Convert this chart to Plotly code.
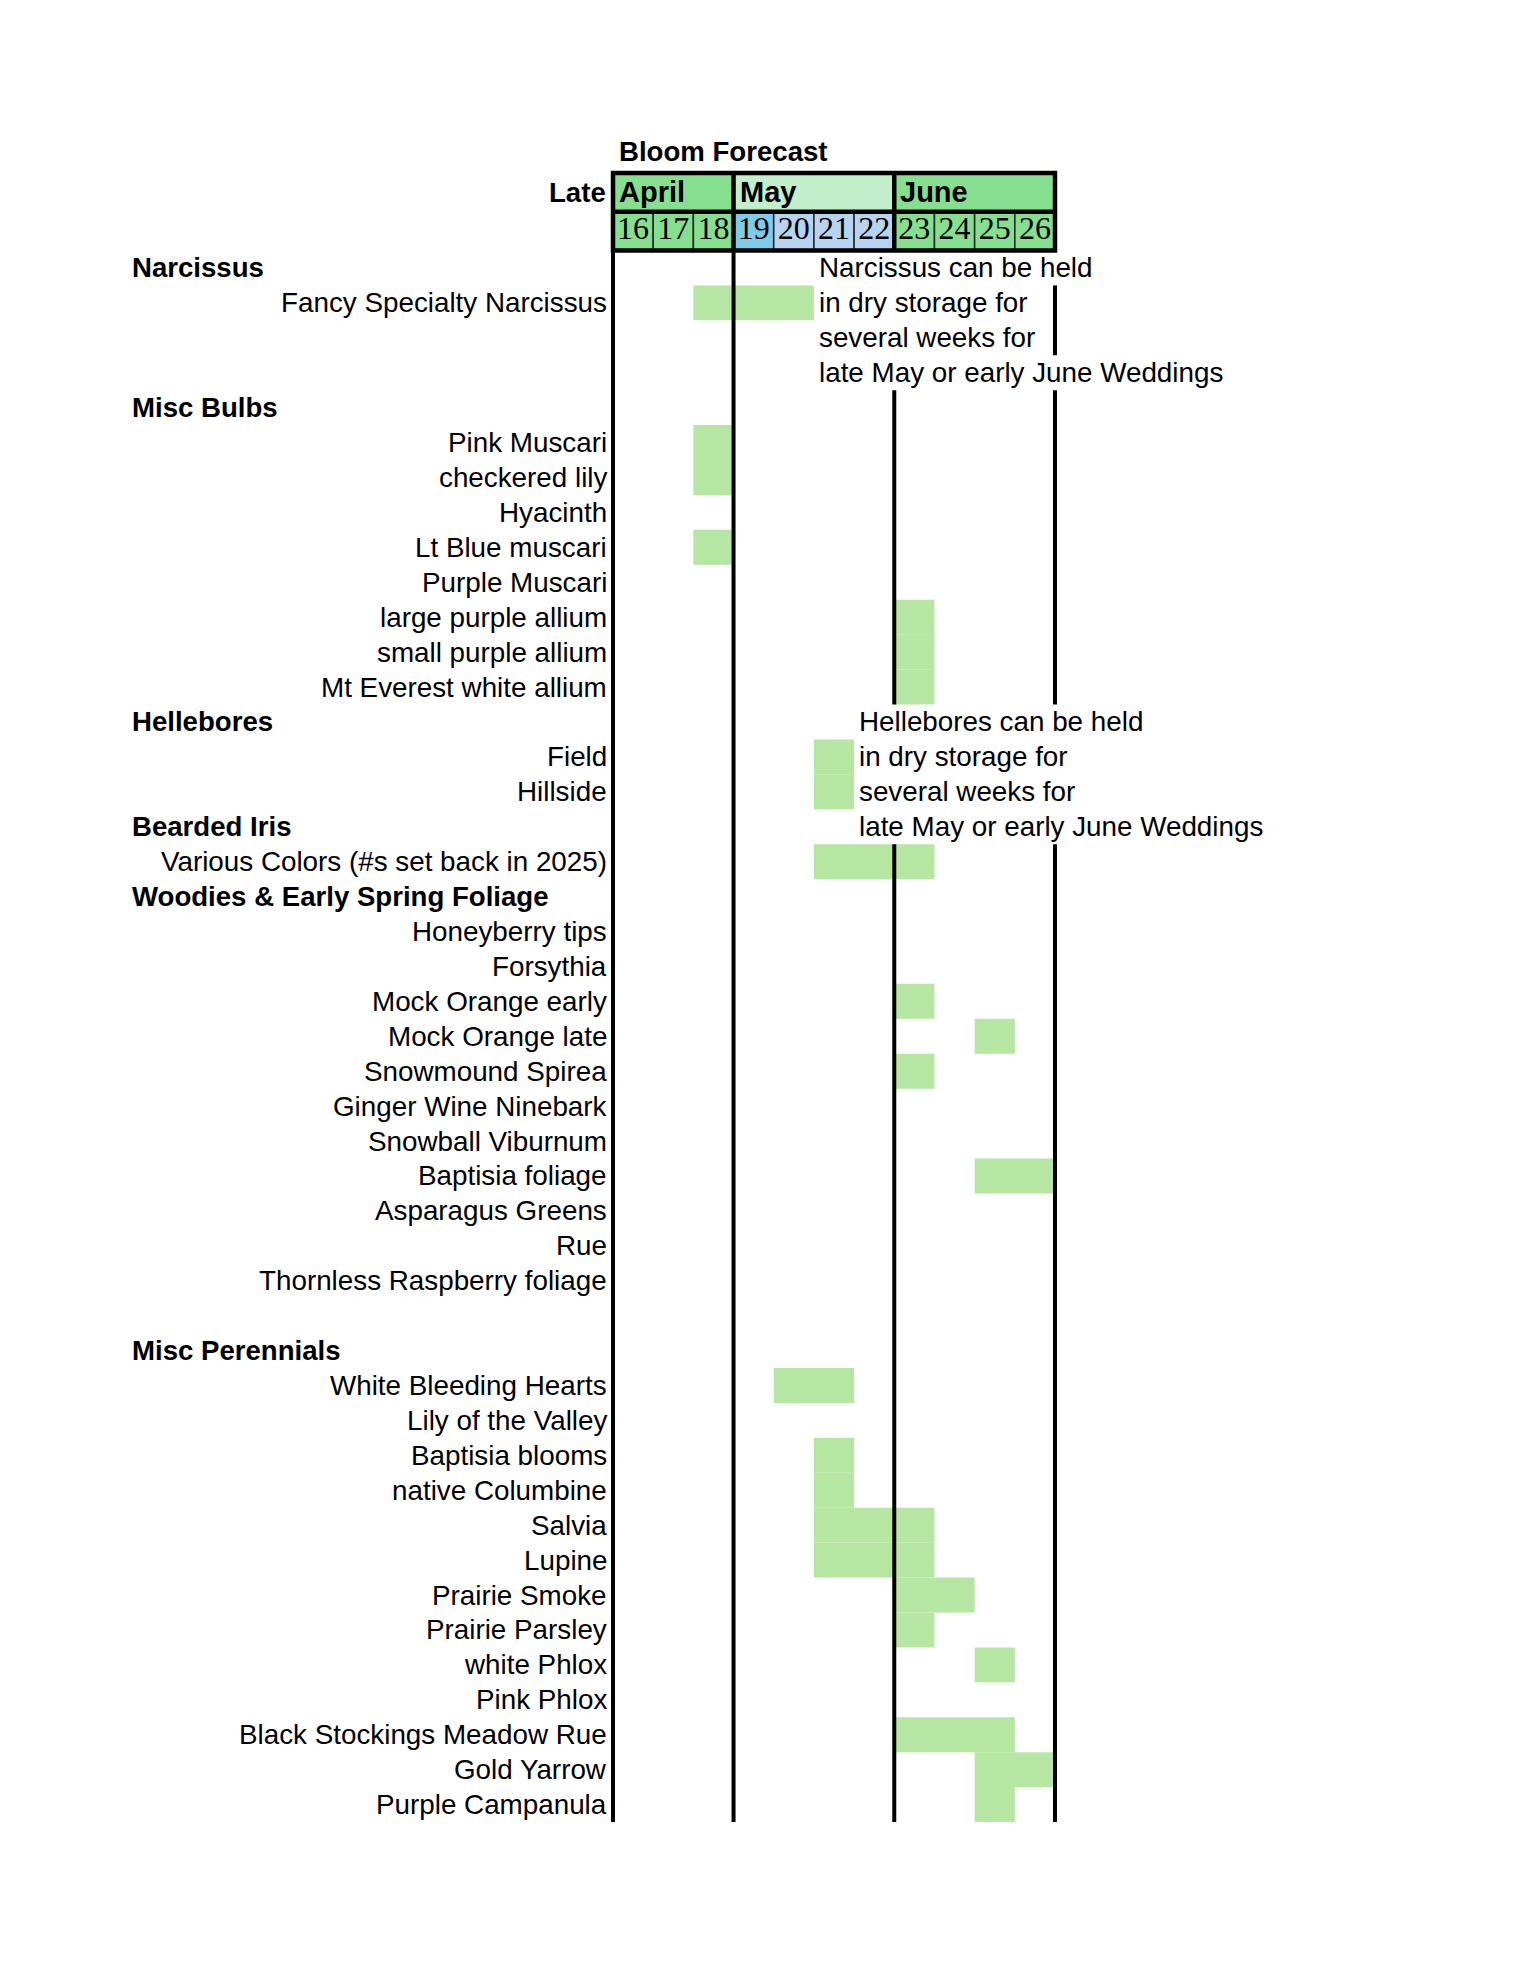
import plotly.graph_objects as go

# ---------------- data ----------------
days = [16, 17, 18, 19, 20, 21, 22, 23, 24, 25, 26]
day_labels = [str(d) for d in days]
day_colors = ["#86df8e", "#86df8e", "#86df8e", "#7fcbea", "#b8d3ef", "#b8d3ef",
              "#b8d3ef", "#86df8e", "#86df8e", "#86df8e", "#86df8e"]

months = ["April", "May", "June"]
month_first_day = [16, 19, 23]
month_last_day = [18, 22, 26]
month_colors = ["#86df8e", "#c2efca", "#86df8e"]

row_labels = [
    "Narcissus", "Fancy Specialty Narcissus", "", "",
    "Misc Bulbs", "Pink Muscari", "checkered lily", "Hyacinth", "Lt Blue muscari",
    "Purple Muscari", "large purple allium", "small purple allium", "Mt Everest white allium",
    "Hellebores", "Field", "Hillside",
    "Bearded Iris", "Various Colors (#s set back in 2025)",
    "Woodies & Early Spring Foliage", "Honeyberry tips", "Forsythia", "Mock Orange early",
    "Mock Orange late", "Snowmound Spirea", "Ginger Wine Ninebark", "Snowball Viburnum",
    "Baptisia foliage", "Asparagus Greens", "Rue", "Thornless Raspberry foliage", "",
    "Misc Perennials", "White Bleeding Hearts", "Lily of the Valley", "Baptisia blooms",
    "native Columbine", "Salvia", "Lupine", "Prairie Smoke", "Prairie Parsley",
    "white Phlox", "Pink Phlox", "Black Stockings Meadow Rue", "Gold Yarrow",
    "Purple Campanula",
]
category_labels = ["Narcissus", "Misc Bulbs", "Hellebores", "Bearded Iris",
                   "Woodies & Early Spring Foliage", "Misc Perennials"]

bloom_items = [
    "Fancy Specialty Narcissus", "Pink Muscari", "checkered lily", "Lt Blue muscari",
    "large purple allium", "small purple allium", "Mt Everest white allium",
    "Field", "Hillside", "Various Colors (#s set back in 2025)",
    "Mock Orange early", "Mock Orange late", "Snowmound Spirea", "Baptisia foliage",
    "White Bleeding Hearts", "Baptisia blooms", "native Columbine", "Salvia", "Lupine",
    "Prairie Smoke", "Prairie Parsley", "white Phlox", "Black Stockings Meadow Rue",
    "Gold Yarrow", "Purple Campanula",
]
bloom_first = [18, 18, 18, 18, 23, 23, 23, 21, 21, 21, 23, 25, 23, 25,
               20, 21, 21, 21, 21, 23, 23, 25, 23, 25, 25]
bloom_last = [20, 18, 18, 18, 23, 23, 23, 21, 21, 23, 23, 25, 23, 26,
              21, 21, 21, 23, 23, 24, 23, 25, 25, 26, 25]

note_anchor_rows = ["Narcissus", "Hellebores"]
note_start_day = [21, 22]
note_lines = [
    ["Narcissus can be held", "in dry storage for", "several weeks for",
     "late May or early June Weddings"],
    ["Hellebores can be held", "in dry storage for", "several weeks for",
     "late May or early June Weddings"],
]
# rows where the note text covers the June / end-of-chart divider
june_divider_hidden_rows = [0, 1, 2, 3, 13, 14, 15, 16]
end_divider_hidden_rows = [0, 3, 13, 14, 15, 16]

title_text = "Bloom Forecast"
period_text = "Late"

# ---------------- style / layout ----------------
W, H = 1530, 1980
BAR = "#b6e7a2"
FONT = "Liberation Sans, Arial, sans-serif"
FS = 27.8
FS_B = 27.6
grid_left, grid_right = 613, 1055
head_top, rows_top, rows_bottom = 172.5, 250, 1822
pad = 5

n_rows = len(row_labels)
ml = grid_left - pad
mr = W - (grid_right + pad)
mt = head_top - pad
mb = H - rows_bottom
plot_w = W - ml - mr
plot_h = H - mt - mb
cw = (grid_right - grid_left) / len(days)
x_lo = days[0] - 0.5 - pad / cw
x_hi = days[-1] + 0.5 + pad / cw
head_row_h = (rows_top - head_top) / 2
d_data_top = (rows_bottom - rows_top) / plot_h
d_head_bot = (rows_bottom - rows_top - pad) / plot_h
y2_lo = -0.5 - pad / head_row_h
y2_hi = 1.5 + pad / head_row_h

fig = go.Figure()

# header cells
fig.add_trace(go.Bar(
    orientation="h", y=[1] * len(months),
    x=[l - f + 1 for f, l in zip(month_first_day, month_last_day)],
    base=[f - 0.5 for f in month_first_day], width=1,
    marker=dict(color=month_colors, line=dict(width=0)),
    xaxis="x2", yaxis="y2", hoverinfo="skip"))
fig.add_trace(go.Bar(
    orientation="h", y=[0] * len(days), x=[1] * len(days),
    base=[d - 0.5 for d in days], width=1,
    marker=dict(color=day_colors, line=dict(color="#2b2b2b", width=1.6)),
    xaxis="x2", yaxis="y2", hoverinfo="skip"))

# header thick borders
x0, x1 = days[0] - 0.5, days[-1] + 0.5
hx = [x0, x1, x1, x0, x0, x1, None, x0, x1]
hy = [1.5, 1.5, -0.5, -0.5, 1.5, 1.5, None, 0.5, 0.5]
for f in month_first_day[1:]:
    hx += [None, f - 0.5, f - 0.5]
    hy += [None, -0.5, 1.5]
fig.add_trace(go.Scatter(x=hx, y=hy, mode="lines",
                         line=dict(color="black", width=4.5),
                         xaxis="x2", yaxis="y2", hoverinfo="skip"))

fig.add_trace(go.Scatter(
    x=days, y=[0] * len(days), text=day_labels, mode="text",
    textfont=dict(family="Liberation Serif, Times New Roman, serif", size=32, color="black"),
    xaxis="x2", yaxis="y2", hoverinfo="skip"))

# bloom bars
fig.add_trace(go.Bar(
    orientation="h", y=[row_labels.index(it) for it in bloom_items],
    x=[l - f + 1 for f, l in zip(bloom_first, bloom_last)],
    base=[f - 0.5 for f in bloom_first], width=1,
    marker=dict(color=BAR, line=dict(width=0)),
    xaxis="x", yaxis="y", hoverinfo="skip"))

# vertical dividers in the body
dividers = [month_first_day[0] - 0.5] + [f - 0.5 for f in month_first_day[1:]] + [month_last_day[-1] + 0.5]
hidden = {dividers[2]: set(june_divider_hidden_rows), dividers[3]: set(end_divider_hidden_rows)}
vx, vy = [], []
for dv in dividers:
    hid = hidden.get(dv, set())
    r = 0
    while r < n_rows:
        if r in hid:
            r += 1
            continue
        s = r
        while r < n_rows and r not in hid:
            r += 1
        vx += [dv, dv, None]
        vy += [s - 0.5, r - 0.5, None]
fig.add_trace(go.Scatter(x=vx, y=vy, mode="lines", line=dict(color="black", width=4),
                         xaxis="x", yaxis="y", hoverinfo="skip"))

ann = []
# title & Late
ann.append(dict(text=f"<b>{title_text}</b>", xref="paper", yref="paper",
                x=(617 - ml) / plot_w, y=(rows_bottom - 151) / plot_h,
                xanchor="left", yanchor="middle", showarrow=False,
                font=dict(family=FONT, size=FS_B, color="black")))
ann.append(dict(text=f"<b>{period_text}</b>", xref="x", yref="y2", x=x0, y=1,
                xanchor="right", yanchor="middle", xshift=-5, showarrow=False,
                font=dict(family=FONT, size=FS_B, color="black")))
for m, f in zip(months, month_first_day):
    ann.append(dict(text=f"<b>{m}</b>", xref="x", yref="y2", x=f - 0.5, y=1,
                    xanchor="left", yanchor="middle", xshift=4, showarrow=False,
                    font=dict(family=FONT, size=29, color="black")))
# row labels
for i, lab in enumerate(row_labels):
    if not lab:
        continue
    if lab in category_labels:
        ann.append(dict(text=f"<b>{lab}</b>", xref="paper", yref="y", x=(130 - ml) / plot_w, y=i,
                        xanchor="left", yanchor="middle", showarrow=False,
                        font=dict(family=FONT, size=FS_B, color="black")))
    else:
        ann.append(dict(text=lab, xref="x", yref="y", x=x0, y=i,
                        xanchor="right", yanchor="middle", xshift=-4, showarrow=False,
                        font=dict(family=FONT, size=FS, color="black")))
# notes
for anchor, sd, lines in zip(note_anchor_rows, note_start_day, note_lines):
    r0 = row_labels.index(anchor)
    for k, t in enumerate(lines):
        ann.append(dict(text=t, xref="x", yref="y", x=sd - 0.5, y=r0 + k,
                        xanchor="left", yanchor="middle", xshift=3, showarrow=False,
                        font=dict(family=FONT, size=FS, color="black")))

ax = dict(visible=False, showgrid=False, zeroline=False, fixedrange=True)
fig.update_layout(
    width=W, height=H, margin=dict(l=ml, r=mr, t=mt, b=mb, pad=0, autoexpand=False),
    paper_bgcolor="white", plot_bgcolor="rgba(0,0,0,0)",
    barmode="overlay", showlegend=False,
    xaxis=dict(ax, domain=[0, 1], range=[x_lo, x_hi], anchor="y"),
    xaxis2=dict(ax, domain=[0, 1], range=[x_lo, x_hi], anchor="y2", matches="x"),
    yaxis=dict(ax, domain=[0, d_data_top], range=[n_rows - 0.5, -0.5], anchor="x"),
    yaxis2=dict(ax, domain=[d_head_bot, 1], range=[y2_lo, y2_hi], anchor="x2"),
    annotations=ann,
)
fig.write_html("out.html")
